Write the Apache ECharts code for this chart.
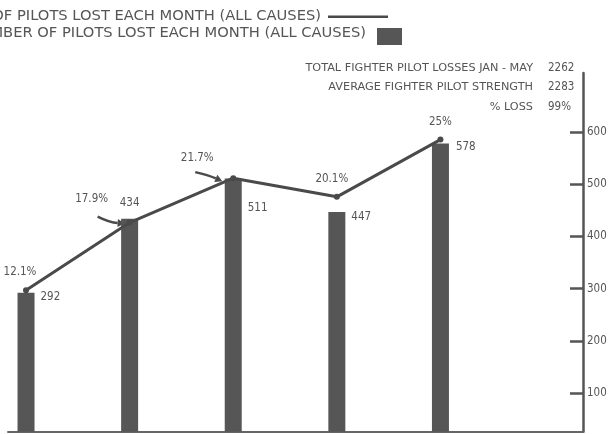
<!DOCTYPE html>
<html>
<head>
<meta charset="utf-8">
<script src="https://cdn.jsdelivr.net/npm/echarts@6/dist/echarts.min.js"></script>
<style>html,body{margin:0;padding:0;background:#fff}#c{width:610px;height:434px}</style>
</head>
<body>
<div id="c"></div>
<script>
// ---- data ----
var months = ['JAN', 'FEB', 'MAR', 'APR', 'MAY'];
var pilotsLost = [292, 434, 511, 447, 578];
var pctLost = [12.1, 17.9, 21.7, 20.1, 25];
var axisTicks = [100, 200, 300, 400, 500, 600];
var lineName = '% OF PILOTS LOST EACH MONTH (ALL CAUSES)';
var barName = 'NUMBER OF PILOTS LOST EACH MONTH (ALL CAUSES)';
var summaryLabels = ['TOTAL FIGHTER PILOT LOSSES JAN - MAY', 'AVERAGE FIGHTER PILOT STRENGTH', '% LOSS'];
var summaryValues = ['2262', '2283', '99%'];

// ---- styles ----
var INK = '#4a4a4a', BAR = '#565656', TXT = '#555';
var FONT = '"DejaVu Sans Condensed", "Liberation Sans Narrow", sans-serif';
var WFONT = '"DejaVu Sans", sans-serif';
var barLabelPos = [[23, -2], 'top', [23, 24], [23, -1], [24, -2]];
var pctLabelOff = [[-6, -4], [-38, -10], [-36, -6], [-5, -4], [0, -4]];

var chart = echarts.init(document.getElementById('c'), null, {renderer: 'canvas'});

var barData = pilotsLost.map(function (v, i) {
  var p = barLabelPos[i];
  return {value: [i, v], label: (p === 'top') ? {position: 'top', distance: 10} : {position: p}};
});
var lineData = pctLost.map(function (v, i) {
  return {value: [i, v], label: {offset: pctLabelOff[i]}};
});

var labelFont = {fontFamily: FONT, fontSize: 11.5, color: TXT};

chart.setOption({
  animation: false,
  backgroundColor: '#fff',
  grid: {left: 8, right: 27, top: 73, bottom: 2.3},
  xAxis: {
    type: 'value', min: -0.174, max: 5.376,
    axisLine: {show: true, onZero: false, lineStyle: {color: '#666', width: 2}},
    axisTick: {show: false}, axisLabel: {show: false}, splitLine: {show: false}
  },
  yAxis: [
    {type: 'value', position: 'right', min: 26, max: 713,
     axisLine: {show: true, onZero: false, lineStyle: {color: TXT, width: 2.5}},
     axisTick: {show: true, inside: true, length: 13, customValues: axisTicks, lineStyle: {color: TXT, width: 2.5}},
     axisLabel: {customValues: axisTicks, margin: 4, fontFamily: FONT, fontSize: 11.5, color: TXT},
     splitLine: {show: false}},
    {type: 'value', min: 0, max: 30.7, show: false}
  ],
  series: [
    {name: barName, type: 'bar', yAxisIndex: 0, barWidth: 17, data: barData,
     itemStyle: {color: BAR},
     label: Object.assign({show: true, formatter: function (p) { return p.value[1]; }}, labelFont)},
    {name: lineName, type: 'line', yAxisIndex: 1, data: lineData,
     symbol: 'circle', symbolSize: 6,
     itemStyle: {color: INK}, lineStyle: {color: INK, width: 3},
     label: Object.assign({show: true, position: 'top', formatter: function (p) { return p.value[1] + '%'; }}, labelFont)}
  ]
});

// arrows from labels 2 and 3 to their points, located via the chart's scales
function arrow(idx, tail, head, ctrl) {
  var pt = chart.convertToPixel({seriesIndex: 1}, [idx, pctLost[idx]]);
  var tx = pt[0] + tail[0], ty = pt[1] + tail[1];
  var hx = pt[0] + head[0], hy = pt[1] + head[1];
  var cx = pt[0] + ctrl[0], cy = pt[1] + ctrl[1];
  var ang = Math.atan2(hy - cy, hx - cx);
  var L = 7, W = 4;
  var bx = hx - L * Math.cos(ang), by = hy - L * Math.sin(ang);
  return [
    {type: 'bezierCurve', shape: {x1: tx, y1: ty, x2: bx, y2: by, cpx1: cx, cpy1: cy},
     style: {stroke: INK, lineWidth: 2.5, fill: null}},
    {type: 'polygon', shape: {points: [[hx, hy],
       [bx + W * Math.sin(ang), by - W * Math.cos(ang)],
       [bx - W * Math.sin(ang), by + W * Math.cos(ang)]]},
     style: {fill: INK}}
  ];
}
var g = [].concat(arrow(1, [-32, -6], [-5, 1], [-20, 0]), arrow(2, [-38, -6], [-11, 3], [-25, -3]));

// key (cropped at the left edge, as in the original)
g.push({type: 'text', x: 321, y: 16,
  style: {text: lineName, align: 'right', verticalAlign: 'middle', fontFamily: WFONT, fontSize: 14.7, fill: TXT}});
g.push({type: 'rect', shape: {x: 328, y: 15.5, width: 60, height: 2.5}, style: {fill: INK}});
g.push({type: 'text', x: 366, y: 33.5,
  style: {text: barName, align: 'right', verticalAlign: 'middle', fontFamily: WFONT, fontSize: 14.7, fill: TXT}});
g.push({type: 'rect', shape: {x: 377, y: 28, width: 25, height: 17}, style: {fill: BAR}});

summaryLabels.forEach(function (s, i) {
  g.push({type: 'text', x: 533, y: 68 + i * 19.5,
    style: {text: s, align: 'right', verticalAlign: 'middle', fontFamily: WFONT, fontSize: 11.25, fill: TXT}});
  g.push({type: 'text', x: 548, y: 68 + i * 19.5,
    style: {text: summaryValues[i], align: 'left', verticalAlign: 'middle', fontFamily: FONT, fontSize: 11.5, fill: TXT}});
});
chart.setOption({graphic: g});
</script>
</body>
</html>
